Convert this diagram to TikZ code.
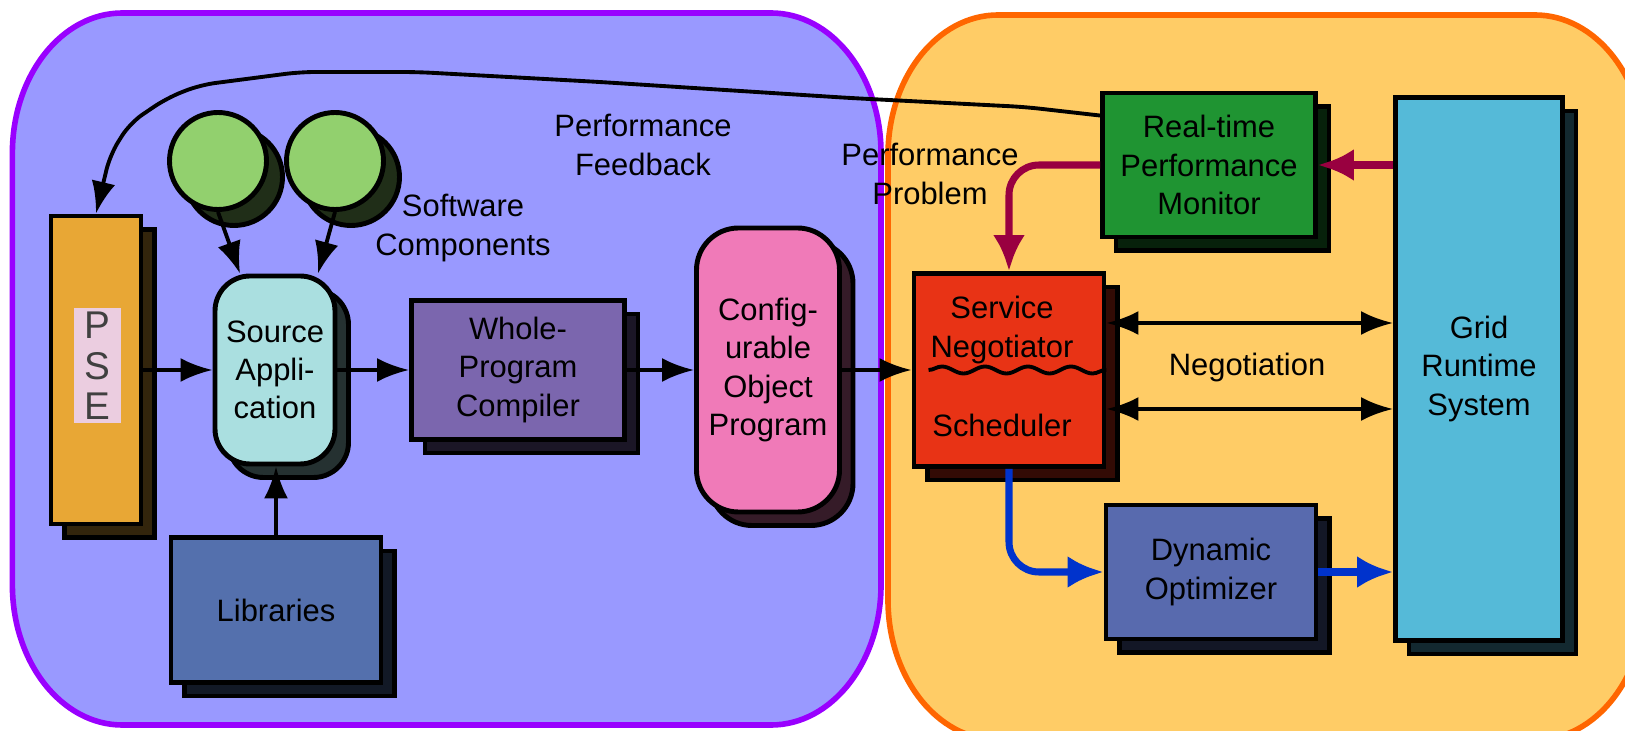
\documentclass[tikz,border=0pt]{standalone}
\usepackage{fontspec}
\setmainfont{Liberation Sans}
\usetikzlibrary{arrows.meta,shadows,decorations.pathmorphing}
\definecolor{leftfill}{HTML}{9999FF}
\definecolor{leftline}{HTML}{9900FF}
\definecolor{rightfill}{HTML}{FFCC66}
\definecolor{rightline}{HTML}{FF6600}
\definecolor{psecol}{HTML}{E8A735}
\definecolor{pselbl}{HTML}{EBCDE0}
\definecolor{srccol}{HTML}{AADFE0}
\definecolor{compcol}{HTML}{92D06E}
\definecolor{libcol}{HTML}{5470AD}
\definecolor{wpccol}{HTML}{7B66AE}
\definecolor{cfgcol}{HTML}{F07AB8}
\definecolor{moncol}{HTML}{1F9432}
\definecolor{sncol}{HTML}{E83315}
\definecolor{gridcol}{HTML}{55BAD8}
\definecolor{dyncol}{HTML}{586AAE}
\definecolor{probcol}{HTML}{990040}
\definecolor{optcol}{HTML}{0033CC}
\begin{document}
\begin{tikzpicture}[font=\fontsize{8.8}{10.9}\selectfont,
    blk/.style={draw=black, line width=1.4pt, fill=#1, align=center, inner sep=1pt,
      copy shadow={shadow xshift=1.35mm, shadow yshift=-1.35mm, fill=#1!22!black,
        draw=black, line width=1.4pt}},
    compnt/.style={circle, draw=black, line width=1.4pt, fill=compcol, minimum size=0.97cm,
      copy shadow={shadow xshift=1.6mm, shadow yshift=-1.6mm, fill=compcol!22!black,
        draw=black, line width=1.4pt}},
    conn/.style={line width=1.1pt, -{Latex[length=3.2mm,width=2.4mm]}},
    thickconn/.style={line width=2pt, -{Latex[length=3.6mm,width=3.2mm]}}]
    \useasboundingbox (0,0) rectangle (16.25,7.3);
    \clip (0,0) rectangle (16.25,7.3);

    \draw[line width=1.6pt, draw=leftline, fill=leftfill] (0.124,5.77) -- (0.124,1.45)
      arc[start angle=180, end angle=270, x radius=1.1cm, y radius=1.4cm] -- (7.71,0.05)
      arc[start angle=270, end angle=360, x radius=1.1cm, y radius=1.4cm] -- (8.81,5.77)
      arc[start angle=0, end angle=90, x radius=1.1cm, y radius=1.4cm] -- (1.224,7.17)
      arc[start angle=90, end angle=180, x radius=1.1cm, y radius=1.4cm] -- cycle;
    \draw[line width=1.6pt, draw=rightline, fill=rightfill] (8.88,5.75) -- (8.88,1.3)
      arc[start angle=180, end angle=270, x radius=1.1cm, y radius=1.4cm] -- (15.35,-0.1)
      arc[start angle=270, end angle=360, x radius=1.1cm, y radius=1.4cm] -- (16.45,5.75)
      arc[start angle=0, end angle=90, x radius=1.1cm, y radius=1.4cm] -- (9.98,7.15)
      arc[start angle=90, end angle=180, x radius=1.1cm, y radius=1.4cm] -- cycle;

    \node[blk=psecol, minimum width=0.9cm, minimum height=3.08cm] (pse) at (0.96,3.6) {};
    \node[fill=pselbl, inner sep=0pt, minimum width=0.47cm, minimum height=1.15cm, align=center,
      text=black!75, font=\fontsize{11}{11.5}\selectfont] (pselabel) at (0.97,3.64) {P\\S\\E};
    \node[blk=srccol, rounded corners=0.35cm, minimum width=1.2cm, minimum height=1.88cm] (src)
      at (2.75,3.6) {Source\\Appli-\\cation};
    \node[compnt] (comp1) at (2.18,5.69) {};
    \node[compnt] (comp2) at (3.35,5.69) {};
    \node[blk=libcol, minimum width=2.1cm, minimum height=1.45cm] (lib) at (2.76,1.2) {Libraries};
    \node[blk=wpccol, minimum width=2.13cm, minimum height=1.39cm] (wpc) at (5.18,3.6)
      {Whole-\\Program\\Compiler};
    \node[blk=cfgcol, rounded corners=0.42cm, minimum width=1.43cm, minimum height=2.84cm] (cfg)
      at (7.68,3.6) {Config-\\urable\\Object\\Program};

    \node[blk=moncol, minimum width=2.13cm, minimum height=1.44cm] (mon) at (12.09,5.65)
      {Real-time\\Performance\\Monitor};
    \node[blk=sncol, minimum width=1.9cm, minimum height=1.93cm] (sn) at (10.09,3.6) {};
    \node[align=center] (sntext) at (10.02,4.0) {Service\\Negotiator};
    \node (schedtext) at (10.02,3.05) {Scheduler};
    \node[blk=gridcol, minimum width=1.67cm, minimum height=5.43cm] (grid) at (14.79,3.61)
      {Grid\\Runtime\\System};
    \node[blk=dyncol, minimum width=2.1cm, minimum height=1.34cm] (dyn) at (12.11,1.58)
      {Dynamic\\Optimizer};

    \node[align=center] (swlabel) at (4.63,5.02) {Software\\Components};
    \node[align=center] (fblabel) at (6.43,5.85) {Performance\\Feedback};
    \node[align=center] (pplabel) at (9.3,5.56) {Performance\\Problem};
    \node (neglabel) at (12.47,3.62) {Negotiation};

    \draw[line width=1.1pt, decorate, decoration={snake, amplitude=0.035cm, segment length=0.43cm}]
      ([xshift=0.17cm]sn.west) -- (sn.east);

    \draw[conn] (pse.east) -- (src.west);
    \draw[conn] (src.east) -- (wpc.west);
    \draw[conn] (wpc.east) -- (cfg.west);
    \draw[conn] (cfg.east) -- (cfg.east -| sn.west);
    \draw[conn] (comp1.south) -- ([xshift=-0.35cm]src.north);
    \draw[conn] (comp2.south) -- ([xshift=0.43cm]src.north);
    \draw[conn] (lib.north) -- (lib.north |- src.south);
    \draw[conn, {Latex[length=3.2mm,width=2.4mm]}-{Latex[length=3.2mm,width=2.4mm]}]
      ([yshift=0.47cm]sn.east) -- ([yshift=0.47cm]sn.east -| grid.west);
    \draw[conn, {Latex[length=3.2mm,width=2.4mm]}-{Latex[length=3.2mm,width=2.4mm]}]
      ([yshift=-0.39cm]sn.east) -- ([yshift=-0.39cm]sn.east -| grid.west);
    \draw[conn, rounded corners=0.15cm] ([yshift=-0.25cm]mon.north west) -- (10.25,6.23)
      -- (8.5,6.32) -- (6.0,6.48) -- (4.17,6.58) -- (3.0,6.58) -- (2.0,6.45) -- (1.67,6.32)
      -- (1.3,6.07) -- (1.1,5.75) -- (pse.north);

    \draw[thickconn, probcol, rounded corners=0.3cm] (mon.west) -| (sn.north);
    \draw[thickconn, probcol] (mon.east -| grid.west) -- (mon.east);
    \draw[thickconn, optcol, rounded corners=0.3cm] (sn.south) |- (dyn.west);
    \draw[thickconn, optcol] (dyn.east) -- (dyn.east -| grid.west);
  \end{tikzpicture}
\end{document}
